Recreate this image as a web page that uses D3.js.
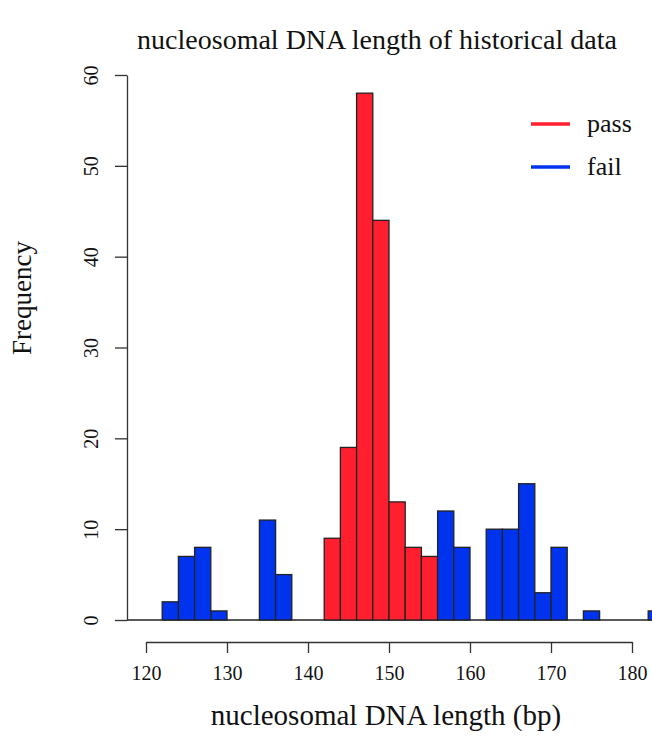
<!DOCTYPE html>
<html>
<head>
<meta charset="utf-8">
<script src="https://cdn.jsdelivr.net/npm/d3@7"></script>
<style>
  body { margin: 0; background: #fff; }
  svg { display: block; font-family: "Liberation Serif", "Times New Roman", serif; }
</style>
</head>
<body>
<svg id="chart" width="652" height="742"></svg>
<script>
// histogram bins (2 bp wide), only non-empty ones
const binStart = [122, 124, 126, 128, 134, 136, 142, 144, 146, 148, 150, 152, 154,
                  156, 158, 162, 164, 166, 168, 170, 174, 182];
const counts   = [2, 7, 8, 1, 11, 5, 9, 19, 58, 44, 13, 8, 7,
                  12, 8, 10, 10, 15, 3, 8, 1, 1];
const status   = ['fail', 'fail', 'fail', 'fail', 'fail', 'fail',
                  'pass', 'pass', 'pass', 'pass', 'pass', 'pass', 'pass',
                  'fail', 'fail', 'fail', 'fail', 'fail', 'fail', 'fail', 'fail', 'fail'];
const binWidth = 2;

const xTicks = [120, 130, 140, 150, 160, 170, 180];
const yTicks = [0, 10, 20, 30, 40, 50, 60];
const legendLabels = ['pass', 'fail'];

const colors = { pass: '#FF1F2E', fail: '#0033EE' };

const svg = d3.select('#chart');

// Set up scales
const x = d3.scaleLinear().domain([120, 180]).range([146, 632]);
const y = d3.scaleLinear().domain([0, 60]).range([620, 75]);

const bins = binStart.map((s, i) => ({ x0: s, x1: s + binWidth, n: counts[i], group: status[i] }));

// baseline at zero
svg.append('line')
  .attr('x1', 127).attr('x2', 652)
  .attr('y1', y(0)).attr('y2', y(0))
  .attr('stroke', '#222')
  .attr('stroke-width', 1.3);

// Draw bars
svg.append('g').selectAll('rect')
  .data(bins)
  .join('rect')
  .attr('x', d => x(d.x0))
  .attr('y', d => y(d.n))
  .attr('width', d => x(d.x1) - x(d.x0))
  .attr('height', d => y(0) - y(d.n))
  .attr('fill', d => colors[d.group])
  .attr('stroke', '#222')
  .attr('stroke-width', 1.3);

// x axis
const xAxis = svg.append('g')
  .attr('transform', 'translate(0,642)')
  .call(d3.axisBottom(x).tickValues(xTicks).tickSize(11).tickPadding(13).tickSizeOuter(0));
xAxis.selectAll('path, line').attr('stroke', '#333').attr('stroke-width', 1.3);
xAxis.selectAll('text')
  .attr('font-size', 20)
  .attr('font-family', '"Liberation Serif", "Times New Roman", serif')
  .attr('fill', '#111');

// y axis
const yAxis = svg.append('g')
  .attr('transform', 'translate(127,0)')
  .call(d3.axisLeft(y).tickValues(yTicks).tickSize(12).tickSizeOuter(0));
yAxis.selectAll('path, line').attr('stroke', '#333').attr('stroke-width', 1.3);
yAxis.selectAll('text')
  .attr('x', 0).attr('dy', 0)
  .attr('text-anchor', 'middle')
  .attr('transform', 'translate(-29,0) rotate(-90)')
  .attr('font-size', 20)
  .attr('font-family', '"Liberation Serif", "Times New Roman", serif')
  .attr('fill', '#111');

// Titles
svg.append('text')
  .attr('x', 377).attr('y', 49)
  .attr('text-anchor', 'middle')
  .attr('font-size', 28)
  .attr('fill', '#111')
  .text('nucleosomal DNA length of historical data');

svg.append('text')
  .attr('x', 386).attr('y', 725)
  .attr('text-anchor', 'middle')
  .attr('font-size', 29)
  .attr('fill', '#111')
  .text('nucleosomal DNA length (bp)');

svg.append('text')
  .attr('transform', 'translate(31,298) rotate(-90)')
  .attr('text-anchor', 'middle')
  .attr('font-size', 27)
  .attr('fill', '#111')
  .text('Frequency');

// Legend
const legend = svg.append('g').selectAll('g')
  .data(legendLabels)
  .join('g')
  .attr('transform', (d, i) => `translate(0,${124 + i * 43})`);

legend.append('line')
  .attr('x1', 531).attr('x2', 570)
  .attr('stroke', d => colors[d])
  .attr('stroke-width', 3.5);

legend.append('text')
  .attr('x', 587).attr('y', 8)
  .attr('font-size', 26)
  .attr('fill', '#111')
  .text(d => d);
</script>
</body>
</html>
